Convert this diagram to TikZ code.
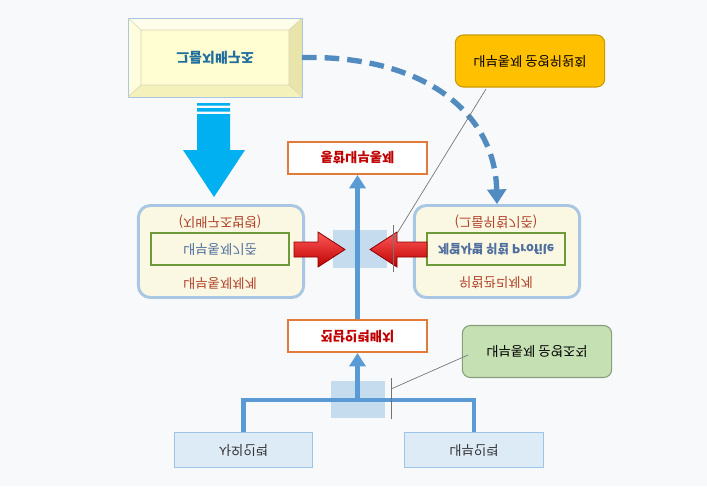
\documentclass[tikz,border=0pt]{standalone}
\usepackage{fontspec}
\newfontfamily\kr{Noto Sans CJK KR}
\usetikzlibrary{arrows.meta}
\newcommand{\fl}[1]{\scalebox{1}[-1]{#1}}
\definecolor{bgc}{HTML}{F8F9FB}
\definecolor{cream}{HTML}{FAF7E3}
\definecolor{lbl}{HTML}{A9C7E2}
\definecolor{grn}{HTML}{6F9A3A}
\definecolor{redtxt}{HTML}{C00000}
\definecolor{brn}{HTML}{B0432A}
\definecolor{orgB}{HTML}{E07B39}
\definecolor{cyanA}{HTML}{00B0F0}
\definecolor{blueL}{HTML}{5B9BD5}
\definecolor{shd}{HTML}{BDD7EE}
\definecolor{btm}{HTML}{DDEBF7}
\definecolor{btmB}{HTML}{9DC3E6}
\definecolor{orangeF}{HTML}{FFC000}
\definecolor{greenF}{HTML}{C5E0B3}
\definecolor{innT}{HTML}{4F6E9E}
\definecolor{govT}{HTML}{1F6E9E}
\begin{document}
\begin{tikzpicture}[x=0.75pt,y=-0.75pt,font=\kr\fontsize{10}{12}\selectfont,
  redbox/.style={draw=orgB,line width=1.5pt,fill=white,minimum width=104pt,minimum height=24pt,text=redtxt,font=\kr\bfseries\fontsize{10}{12}\selectfont},
  bigbox/.style={draw=lbl,line width=2.2pt,fill=cream,rounded corners=9pt,minimum width=124pt,minimum height=69pt},
  innbox/.style={draw=grn,line width=1.5pt,fill=cream,minimum width=103pt,minimum height=24pt},
  btmbox/.style={draw=btmB,line width=0.8pt,fill=btm,minimum width=104pt,minimum height=26pt,text=black!80},
  callout/.style={rounded corners=6pt,line width=0.8pt,minimum width=112pt,minimum height=39pt},
  flow/.style={draw=blueL,line width=3.2pt},
  redarrow/.style={top color=red!65!white,bottom color=red!75!black,draw=red!55!black,line width=0.6pt},
  thinln/.style={draw=black!55,line width=0.5pt}]
\useasboundingbox (0,0) rectangle (707,486);
\fill[bgc] (0,0) rectangle (707,486);
% bevel box
\fill[yellow!8!white] (128,18) -- (302,18) -- (289,30) -- (141,30) -- cycle;
\fill[yellow!14!white] (128,18) -- (141,30) -- (141,85) -- (128,97) -- cycle;
\fill[yellow!30!white!90!black] (302,18) -- (289,30) -- (289,85) -- (302,97) -- cycle;
\fill[yellow!25!white!95!black] (128,97) -- (141,85) -- (289,85) -- (302,97) -- cycle;
\fill[yellow!18!white] (141,30) rectangle (289,85);
\draw[lbl,line width=0.6pt] (128,18) rectangle (302,97);
\draw[yellow!40!black!30,line width=0.4pt] (128,18) -- (141,30) (302,18) -- (289,30) (128,97) -- (141,85) (302,97) -- (289,85) (141,30) rectangle (289,85);
\node[minimum width=130pt,minimum height=59pt,text=govT,font=\kr\bfseries\fontsize{10.5}{12}\selectfont] (gov) at (215,57.5) {\fl{그룹지배구조}};
% striped arrow
\fill[cyanA] (197,103) rectangle (230,105.5) (197,108) rectangle (230,111.5) (197,114) rectangle (230,151);
\fill[cyanA] (183,150) -- (245,150) -- (214,197) -- cycle;
% shaded squares
\fill[shd,opacity=0.85] (333,230) rectangle (387,268);
\fill[shd,opacity=0.85] (331,381) rectangle (385,418);
% boxes
\node[redbox] (top) at (357.5,158) {\fl{통합내부통제}};
\node[redbox] (mid) at (357.5,336) {\fl{전담인력배치}};
\node[bigbox] (lb) at (221,251.5) {};
\node[innbox] (li) at (220,249) {\textcolor{innT}{\fl{내부통제기준}}};
\node[text=brn] (lh) at (220,222) {\fl{(지배구조법령)}};
\node[text=brn] (lf) at (220,283) {\fl{내부통제체계}};
\node[bigbox] (rb) at (497,251.5) {};
\node[innbox,font=\kr\fontsize{9.3}{11}\selectfont] (ri) at (496,249) {\textcolor{innT}{\bfseries\fl{계열사별 위험 Profile}}};
\node[text=brn] (rh) at (496,222) {\fl{(그룹위험기준)}};
\node[text=brn] (rf) at (496,283) {\fl{위험관리체계}};
\node[btmbox] (bl) at (243.5,450) {\fl{사외인력}};
\node[btmbox] (br) at (474,450) {\fl{내부인력}};
\node[callout,draw=orangeF!80!black,fill=orangeF] (oc) at (530,61) {\fl{내부통제 운영위원회}};
\node[callout,draw=greenF!70!black,fill=greenF] (gc) at (537,351.5) {\fl{내부통제 운영조직}};
% flows
\coordinate (j) at (357.5,400);
\draw[flow] (bl.north) |- (j) -| (br.north);
\draw[flow,-{Triangle[length=10pt,width=12pt]}] (j) -- (mid.south);
\draw[flow,-{Triangle[length=10pt,width=12pt]}] (mid.north) -- (top.south);
% red arrows
\draw[redarrow] (294,242) -- (318,242) -- (318,232) -- (345,249.5) -- (318,267) -- (318,257) -- (294,257) -- cycle;
\draw[redarrow] (427,242) -- (397,242) -- (397,232) -- (370,249.5) -- (397,267) -- (397,257) -- (427,257) -- cycle;
% dashed curve
\draw[blueL!90!black,line width=4pt,dash pattern=on 11pt off 6pt,-{Triangle[length=11pt,width=14pt]}] (gov.east) .. controls (420,55) and (495,110) .. (rb.north);
% callout connectors
\coordinate (ocs) at (486,89);
\coordinate (oce) at (393,240);
\coordinate (oca) at (393,225);
\coordinate (ocb) at (393,272);
\draw[thinln] (ocs) -- (oce);
\draw[thinln] (oca) -- (ocb);
\coordinate (gcs) at (468,355);
\coordinate (gce) at (391,389);
\coordinate (gca) at (391,378);
\coordinate (gcb) at (391,419);
\draw[thinln] (gcs) -- (gce);
\draw[thinln] (gca) -- (gcb);
\end{tikzpicture}
\end{document}
